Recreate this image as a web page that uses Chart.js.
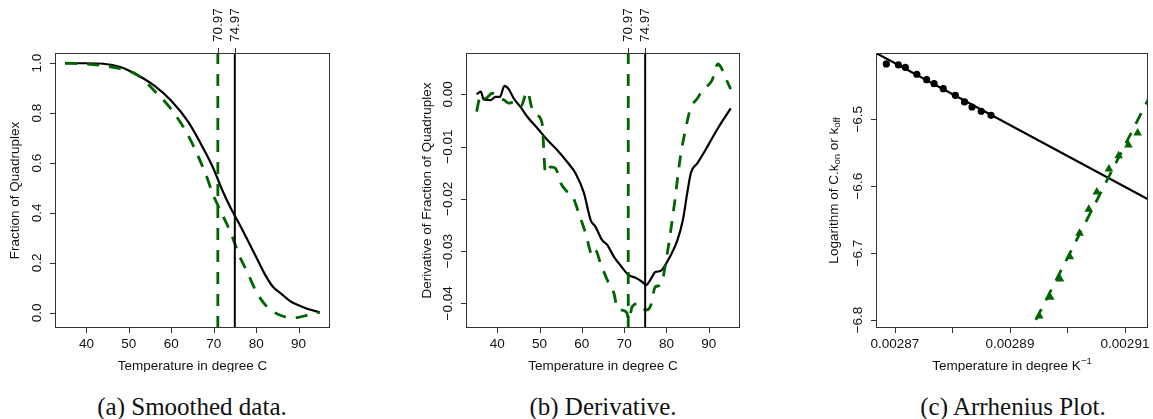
<!DOCTYPE html>
<html>
<head>
<meta charset="utf-8">
<script src="https://cdn.jsdelivr.net/npm/chart.js@4"></script>
<style>
  body { margin: 0; background: #fff; width: 1153px; height: 419px; overflow: hidden; position: relative; }
  canvas { position: absolute; top: 0; }
  .cap { position: absolute; top: 392px; line-height: 30px; width: 320px; text-align: center;
         font-family: "Liberation Serif", serif; font-size: 25px; color: #111; }
</style>
</head>
<body>
<canvas id="smoothed" width="345" height="372" style="left:0"></canvas>
<canvas id="derivative" width="375" height="372" style="left:380px"></canvas>
<canvas id="arrhenius" width="363" height="372" style="left:790px"></canvas>
<div class="cap" style="left:32px">(a) Smoothed data.</div>
<div class="cap" style="left:443px">(b) Derivative.</div>
<div class="cap" style="left:853px">(c) Arrhenius Plot.</div>
<script>
const GREEN = '#006400';
const meltTemps = [70.97, 74.97];

// (a) smoothed melting curves
const smoothTemp = [35, 40, 44, 48, 52, 56, 60, 64, 68, 70, 72, 74, 76, 78, 80, 82, 84, 86, 88, 90, 92, 95];
const smoothFit = [1.0, 1.0, 0.998, 0.985, 0.953, 0.91, 0.85, 0.765, 0.644, 0.575, 0.492, 0.42, 0.357, 0.291, 0.224, 0.156, 0.103, 0.075, 0.047, 0.03, 0.016, 0.002];
const smoothData = [1.0, 0.997, 0.99, 0.978, 0.953, 0.89, 0.815, 0.71, 0.56, 0.468, 0.394, 0.321, 0.23, 0.16, 0.085, 0.035, 0.005, -0.012, -0.02, -0.018, -0.01, 0.002];
const smoothYTicks = [0, 0.2, 0.4, 0.6, 0.8, 1.0];

// (b) derivatives
const derivTempBlack = [35.1, 36.1, 36.8, 38.4, 39.6, 40.6, 41.7, 42.7, 43.9, 45.5, 47.1, 49.5, 51.8, 54.2, 56.5, 58.5, 60.5, 62.1, 63.2, 64.8, 66.0, 67.6, 69.1, 71.1, 72.7, 74.3, 75.2, 76.2, 77.4, 78.6, 80.2, 82.6, 83.9, 84.9, 85.8, 87.3, 89.2, 90.8, 92.4, 95.2];
const derivBlack = [0.0, 0.0005, -0.001, -0.0011, -0.0005, -0.0005, 0.0016, 0.001, -0.0008, -0.0024, -0.0043, -0.0065, -0.0087, -0.0107, -0.0129, -0.0151, -0.0189, -0.0241, -0.0253, -0.0279, -0.0288, -0.0311, -0.0327, -0.0346, -0.0351, -0.0359, -0.0365, -0.0355, -0.034, -0.0338, -0.032, -0.0279, -0.024, -0.019, -0.015, -0.0132, -0.0107, -0.0084, -0.0062, -0.0027];
const derivTempGreen = [35.1, 36.1, 37.2, 38.8, 40.4, 41.6, 42.7, 44.3, 45.5, 47.1, 48.3, 49.5, 50.6, 51.4, 52.6, 53.8, 55.0, 56.5, 57.7, 59.3, 60.9, 62.5, 63.2, 64.4, 66.0, 67.6, 68.4, 69.6, 70.7, 71.1, 71.9, 73.5, 75.1, 76.2, 77.4, 78.6, 80.2, 81.8, 83.3, 84.5, 85.7, 87.3, 88.1, 89.6, 90.8, 92.2, 93.2, 94.4, 95.2];
const derivGreen = [-0.0033, -0.0001, -0.0008, 0.0002, -0.0008, -0.0011, -0.0017, -0.0014, -0.0024, 0.0005, -0.003, -0.004, -0.0056, -0.0151, -0.0139, -0.0142, -0.017, -0.0186, -0.0193, -0.0228, -0.0266, -0.0308, -0.0298, -0.0323, -0.0355, -0.0381, -0.041, -0.0413, -0.0419, -0.0432, -0.0406, -0.04, -0.0413, -0.0406, -0.0368, -0.0365, -0.0304, -0.0215, -0.012, -0.0068, -0.0027, -0.0008, 0.0002, 0.0015, 0.0027, 0.0058, 0.0047, 0.0024, 0.001];
const derivYTicks = [0, -0.01, -0.02, -0.03, -0.04];

const tempXTicks = [40, 50, 60, 70, 80, 90];

// (c) Arrhenius plot
const offInvT = [0.0028685, 0.0028706, 0.0028718, 0.0028738, 0.0028755, 0.0028768, 0.0028784, 0.0028805, 0.0028821, 0.0028834, 0.002885, 0.0028867];
const offLog = [-6.4173, -6.4188, -6.4223, -6.4327, -6.4408, -6.4468, -6.4543, -6.4641, -6.4741, -6.4816, -6.488, -6.494];
const onInvT = [0.0028951, 0.002897, 0.0028987, 0.0029004, 0.0029021, 0.0029037, 0.0029051, 0.0029072, 0.0029089, 0.0029106, 0.0029122];
const onLog = [-6.794, -6.7661, -6.7387, -6.7054, -6.6704, -6.6345, -6.6087, -6.5743, -6.5544, -6.5384, -6.5205];
const offFit = [-4624, 6.8547];     // slope, intercept
const onFit = [16864, -55.6127];
const arrXTicks = [0.00287, 0.00288, 0.00289, 0.0029, 0.00291];
const arrXLabels = ['0.00287', '', '0.00289', '', '0.00291'];
const arrYTicks = [-6.5, -6.6, -6.7, -6.8];

const FONT = '"Liberation Sans", Arial, sans-serif';
const pts = (xs, ys) => xs.map((x, i) => ({ x: x, y: ys[i] }));
const minus = s => s.replace('-', '\u2212');

function drawPieces(c, pieces, x0, y0) {
  let x = x0;
  pieces.forEach(p => {
    c.font = p[1] + 'px ' + FONT;
    c.fillText(p[0], x, y0 + p[2]);
    x += c.measureText(p[0]).width;
  });
}
function piecesWidth(c, pieces) {
  let w = 0;
  pieces.forEach(p => { c.font = p[1] + 'px ' + FONT; w += c.measureText(p[0]).width; });
  return w;
}

function rAxes(o) {
  return {
    id: 'rAxes',
    afterDraw(chart) {
      const c = chart.ctx, a = chart.chartArea;
      const xs = chart.scales.x, ys = chart.scales.y;
      c.save();
      c.strokeStyle = '#333';
      c.lineWidth = 1;
      c.strokeRect(Math.round(a.left) + 0.5, Math.round(a.top) + 0.5, Math.round(a.right - a.left) - 1, Math.round(a.bottom - a.top) - 1);
      c.beginPath();
      xs.ticks.forEach(t => {
        const px = Math.round(xs.getPixelForValue(t.value)) + 0.5;
        c.moveTo(px, a.bottom); c.lineTo(px, a.bottom + 5);
      });
      ys.ticks.forEach(t => {
        const py = Math.round(ys.getPixelForValue(t.value)) + 0.5;
        c.moveTo(a.left - 5, py); c.lineTo(a.left, py);
      });
      (o.tm || []).forEach(v => {
        const px = Math.round(xs.getPixelForValue(v)) + 0.5;
        c.moveTo(px, a.top - 5); c.lineTo(px, a.top);
      });
      c.stroke();

      c.fillStyle = '#111';
      c.font = '13.5px ' + FONT;
      c.textAlign = 'center';
      c.textBaseline = 'alphabetic';
      xs.ticks.forEach((t, i) => {
        const s = o.xLabel(t.value, i);
        if (s) c.fillText(s, xs.getPixelForValue(t.value), a.bottom + 20);
      });
      ys.ticks.forEach(t => {
        c.save();
        c.translate(a.left - 18, ys.getPixelForValue(t.value));
        c.rotate(-Math.PI / 2);
        c.textBaseline = 'middle';
        c.fillText(o.yLabel(t.value), 0, 0);
        c.restore();
      });
      (o.tm || []).forEach(v => {
        c.save();
        c.translate(xs.getPixelForValue(v), a.top - 11);
        c.rotate(-Math.PI / 2);
        c.textAlign = 'left';
        c.textBaseline = 'middle';
        c.fillText(v.toFixed(2), 0, 0);
        c.restore();
      });

      // axis titles
      c.textAlign = 'left';
      const cx = (a.left + a.right) / 2, cy = (a.top + a.bottom) / 2;
      const wx = piecesWidth(c, o.xTitle);
      drawPieces(c, o.xTitle, cx - wx / 2, a.bottom + 42);
      c.save();
      c.translate(a.left - o.yTitleOff, cy);
      c.rotate(-Math.PI / 2);
      c.textBaseline = 'middle';
      const wy = piecesWidth(c, o.yTitle);
      drawPieces(c, o.yTitle, -wy / 2, 0);
      c.restore();
      c.restore();
    }
  };
}

function baseOptions(xMin, xMax, yMin, yMax, xTicks, yTicks, left, right) {
  return {
    responsive: false,
    animation: false,
    layout: { padding: { top: 53, right: right, left: 0, bottom: 0 } },
    plugins: { legend: { display: false }, tooltip: { enabled: false } },
    elements: { point: { radius: 0 } },
    scales: {
      x: {
        type: 'linear', min: xMin, max: xMax,
        afterBuildTicks: s => { s.ticks = xTicks.map(v => ({ value: v })); },
        afterFit: s => { s.height = 44; },
        ticks: { display: false }, grid: { display: false }, border: { display: false }
      },
      y: {
        type: 'linear', min: yMin, max: yMax,
        afterBuildTicks: s => { s.ticks = yTicks.map(v => ({ value: v })); },
        afterFit: s => { s.width = left; },
        ticks: { display: false }, grid: { display: false }, border: { display: false }
      }
    }
  };
}

function vLine(v, yMin, yMax, dashed) {
  return {
    data: [{ x: v, y: yMin }, { x: v, y: yMax }],
    borderColor: dashed ? GREEN : '#000',
    borderWidth: dashed ? 2.8 : 2,
    borderDash: dashed ? [12, 10] : [],
    clip: 0
  };
}
function curve(xs, ys, dashed) {
  return {
    data: pts(xs, ys),
    borderColor: dashed ? GREEN : '#000',
    borderWidth: dashed ? 2.8 : 2.2,
    borderDash: dashed ? [12, 10] : [],
    cubicInterpolationMode: 'monotone'
  };
}

// (a)
const aY = [-0.061, 1.041];
new Chart(document.getElementById('smoothed'), {
  type: 'line',
  data: {
    datasets: [
      vLine(meltTemps[0], aY[0], aY[1], true),
      vLine(meltTemps[1], aY[0], aY[1], false),
      curve(smoothTemp, smoothData, true),
      curve(smoothTemp, smoothFit, false)
    ]
  },
  options: baseOptions(32.6, 97.4, aY[0], aY[1], tempXTicks, smoothYTicks, 55, 15),
  plugins: [rAxes({
    tm: meltTemps,
    xLabel: v => String(v),
    yLabel: v => v.toFixed(1),
    xTitle: [['Temperature in degree C', 13.5, 0]],
    yTitle: [['Fraction of Quadruplex', 13.5, 0]],
    yTitleOff: 40
  })]
});

// (b)
const bY = [-0.0447, 0.0079];
new Chart(document.getElementById('derivative'), {
  type: 'line',
  data: {
    datasets: [
      vLine(meltTemps[0], bY[0], bY[1], true),
      vLine(meltTemps[1], bY[0], bY[1], false),
      curve(derivTempGreen, derivGreen, true),
      curve(derivTempBlack, derivBlack, false)
    ]
  },
  options: baseOptions(32.6, 97.4, bY[0], bY[1], tempXTicks, derivYTicks, 86, 15),
  plugins: [rAxes({
    tm: meltTemps,
    xLabel: v => String(v),
    yLabel: v => minus(v.toFixed(2)),
    xTitle: [['Temperature in degree C', 13.5, 0]],
    yTitle: [['Derivative of Fraction of Quadruplex', 13.5, 0]],
    yTitleOff: 39
  })]
});

// (c)
const cX = [0.0028667, 0.002914];
const cY = [-6.812, -6.4009];
const fitLine = f => cX.map(x => ({ x: x, y: f[1] + f[0] * x }));
new Chart(document.getElementById('arrhenius'), {
  type: 'line',
  data: {
    datasets: [
      { data: fitLine(onFit), borderColor: GREEN, borderWidth: 2.8, borderDash: [12, 10], clip: 0 },
      { data: fitLine(offFit), borderColor: '#000', borderWidth: 2.2, clip: 0 },
      { data: pts(onInvT, onLog), showLine: false, pointStyle: 'triangle', pointRadius: 5, backgroundColor: GREEN, borderColor: GREEN, borderWidth: 0 },
      { data: pts(offInvT, offLog), showLine: false, pointRadius: 3.6, backgroundColor: '#000', borderColor: '#000', borderWidth: 0 }
    ]
  },
  options: baseOptions(cX[0], cX[1], cY[0], cY[1], arrXTicks, arrYTicks, 86, 2),
  plugins: [rAxes({
    xLabel: (v, i) => arrXLabels[i],
    yLabel: v => minus(v.toFixed(1)),
    xTitle: [['Temperature in degree K', 13.5, 0], ['\u22121', 9.5, -6]],
    yTitle: [['Logarithm of C.k', 13.5, 0], ['on', 9.5, 3], [' or k', 13.5, 0], ['off', 9.5, 3]],
    yTitleOff: 42
  })]
});
</script>
</body>
</html>
